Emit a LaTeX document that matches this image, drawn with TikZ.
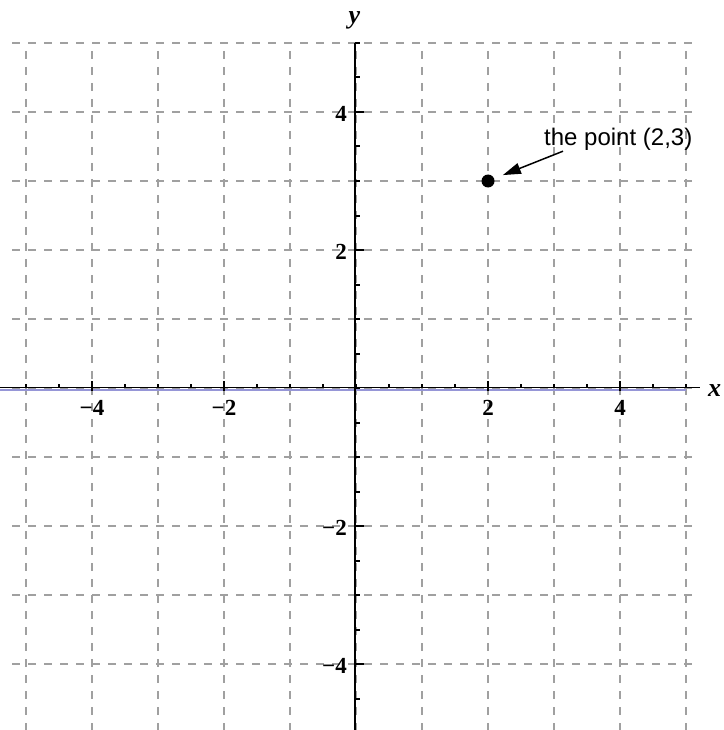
\documentclass[tikz,border=0pt]{standalone}
\usepackage{fontspec}
\setmainfont{Liberation Serif}
\newfontfamily\annfont{Liberation Sans}
\usetikzlibrary{arrows.meta}
\definecolor{gridgray}{RGB}{160,160,160}
\definecolor{axisblue}{RGB}{150,150,215}
\begin{document}
\begin{tikzpicture}[x=1pt,y=-1pt,
  gridline/.style={draw=gridgray, line width=1.5pt, dash pattern=on 8pt off 8pt},
  axisline/.style={draw=black, line width=1.8pt},
  blueline/.style={draw=axisblue, line width=2pt},
  minortick/.style={draw=black, line width=2pt},
  majortick/.style={draw=black, line width=2.6pt},
  numlbl/.style={inner sep=0pt, font=\fontsize{23pt}{27pt}\selectfont\bfseries},
  axlbl/.style={inner sep=0pt, font=\fontsize{26pt}{30pt}\selectfont\bfseries\itshape},
  annlbl/.style={inner sep=0pt, font=\annfont\fontsize{24pt}{28pt}\selectfont},
  dot/.style={circle, fill=black, inner sep=0pt, minimum size=13pt},
  pointer/.style={draw=black, line width=1.5pt, -{Triangle[length=18pt,width=11pt]}}]
\useasboundingbox (0,0) rectangle (723,730);
\begin{scope}
\clip (0,0) rectangle (723,730);
\begin{scope}[shift={(356pt,-388pt)}, x=66pt, y=69pt]
  % grid
  \foreach \i in {-5,...,5}
    \draw[gridline, dash phase=8pt] (\i,5) -- (\i,-5.1);
  \foreach \j in {-5,...,5}
    \draw[gridline] (-5.21,\j) -- (5.21,\j);
  % axes
  \draw[blueline] ([yshift=-1.8pt]-5.4,0) -- ([yshift=-1.8pt]5,0);
  \draw[axisline] ([yshift=0.5pt]-5.4,0) -- ([yshift=0.5pt]5.21,0);
  \draw[axisline] ([xshift=-1pt]0,5) -- ([xshift=-1pt]0,-5.1);
  % ticks
  \foreach \t in {-5,-4.5,...,5} {
    \draw[minortick] (\t,0) -- ++(0pt,4pt);
    \draw[minortick] ([xshift=-1pt]0,\t) -- ++(5pt,0pt);
  }
  \foreach \t in {-4,-2,2,4} {
    \draw[majortick] ([yshift=-3pt]\t,0) -- ++(0pt,10pt);
    \draw[majortick] ([xshift=-1pt]0,\t) -- ++(9pt,0pt);
  }
  % tick labels
  \node[numlbl, anchor=north] (xm4) at ([yshift=-12pt]-4,0) {−4};
  \node[numlbl, anchor=north] (xm2) at ([yshift=-12pt]-2,0) {−2};
  \node[numlbl, anchor=north] (xp2) at ([yshift=-12pt]2,0) {2};
  \node[numlbl, anchor=north] (xp4) at ([yshift=-12pt]4,0) {4};
  \node[numlbl, anchor=east] (yp4) at ([xshift=-9pt,yshift=-1.5pt]0,4) {4};
  \node[numlbl, anchor=east] (yp2) at ([xshift=-9pt,yshift=-1.5pt]0,2) {2};
  \node[numlbl, anchor=east] (ym2) at ([xshift=-9pt,yshift=-1.5pt]0,-2) {−2};
  \node[numlbl, anchor=east] (ym4) at ([xshift=-9pt,yshift=-1.5pt]0,-4) {−4};
  % point
  \node[dot] (pt) at (2,3) {};
\end{scope}
% axis names
\node[axlbl, anchor=west] (xname) at (708,391) {x};
\node[axlbl] (yname) at (354.5,20) {y};
% annotation
\node[annlbl, anchor=base west] (lbl) at (544,146) {the point (2,3)};
\coordinate (as) at ([xshift=19pt]lbl.south west);
\draw[pointer, shorten >=9.3pt] (as) -- (pt);
\end{scope}
\end{tikzpicture}
\end{document}
